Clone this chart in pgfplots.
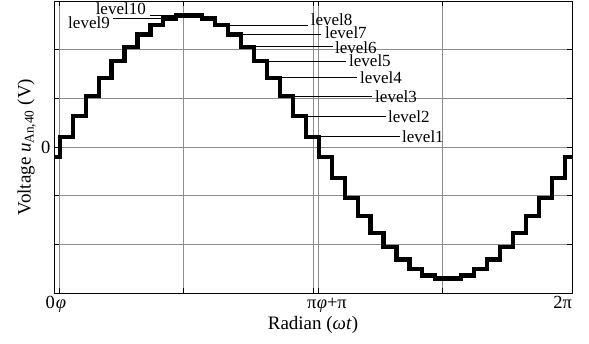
\documentclass[border=0pt]{standalone}
\usepackage{pgfplots}
\pgfplotsset{compat=1.18}
\usepackage{fontspec}
\setmainfont{Liberation Serif}
\begin{document}
\begin{tikzpicture}
\useasboundingbox (-54pt,-50pt) rectangle (535pt,293pt);
\begin{axis}[
  at={(0pt,0pt)}, anchor=south west,
  scale only axis, width=518pt, height=292pt,
  xmin=0, xmax=6.283185, ymin=-3, ymax=3,
  xtick={0,0.07,1.570796,3.141593,3.211593,4.712389,6.283185},
  xticklabels={\makebox[0pt][r]{0\kern-1pt},\makebox[0pt][l]{\kern-4pt\textit{φ}},,\makebox[0pt][r]{π\kern-3.5pt},\makebox[0pt][l]{\kern-2pt\textit{φ}+π},,\makebox[0pt][r]{2π}},
  ytick={-3,-2,-1,0,1,2,3},
  yticklabels={,,,0,,,},
  grid=major,
  major grid style={black!45, line width=0.6pt},
  tick align=inside, major tick length=5pt,
  tick style={black, line width=0.6pt},
  axis line style={line width=0.8pt},
  tick label style={font=\fontsize{18.5}{21}\selectfont},
  xticklabel style={anchor=base, yshift=-15pt},
  label style={font=\fontsize{19}{22}\selectfont},
  xlabel={Radian (\textit{ωt})},
  ylabel={Voltage \textit{u}\textsubscript{An,40} (V)},
  xlabel style={at={(axis description cs:0.5,0)}, anchor=base, yshift=-36pt},
  ylabel style={at={(axis description cs:-0.053,0.5)}, anchor=center},
]
\addplot[const plot, black, line width=4.2pt, line join=miter, no markers] coordinates {
(0,-0.21) (0.0700,0.21) (0.2271,0.63) (0.3842,1.04) (0.5412,1.42) (0.6983,1.76)
(0.8554,2.06) (1.0125,2.31) (1.1696,2.50) (1.3266,2.64) (1.4837,2.70)
(1.6408,2.70) (1.7979,2.64) (1.9550,2.50) (2.1120,2.31) (2.2691,2.06)
(2.4262,1.76) (2.5833,1.42) (2.7404,1.04) (2.8974,0.63) (3.0545,0.21)
(3.2116,-0.21) (3.3687,-0.63) (3.5258,-1.04) (3.6828,-1.42) (3.8399,-1.76)
(3.9970,-2.06) (4.1541,-2.31) (4.3112,-2.50) (4.4682,-2.64) (4.6253,-2.70)
(4.7824,-2.70) (4.9395,-2.64) (5.0966,-2.50) (5.2536,-2.31) (5.4107,-2.06)
(5.5678,-1.76) (5.7249,-1.42) (5.8820,-1.04) (6.0390,-0.63) (6.1961,-0.21)
(6.2832,-0.21)
};
\begin{scope}[line width=0.8pt]
\draw (axis cs:1.1645,2.70) -- (axis cs:1.4837,2.70);
\draw (axis cs:0.7157,2.64) -- (axis cs:1.4837,2.64);
\draw (axis cs:2.1120,2.50) -- (axis cs:3.081,2.50);
\draw (axis cs:2.2691,2.31) -- (axis cs:3.239,2.31);
\draw (axis cs:2.4262,2.06) -- (axis cs:3.384,2.06);
\draw (axis cs:2.5833,1.76) -- (axis cs:3.542,1.76);
\draw (axis cs:2.7404,1.42) -- (axis cs:3.675,1.42);
\draw (axis cs:2.8974,1.04) -- (axis cs:3.857,1.04);
\draw (axis cs:3.0545,0.63) -- (axis cs:4.027,0.63);
\draw (axis cs:3.2116,0.21) -- (axis cs:4.197,0.21);
\end{scope}
\begin{scope}[every node/.style={inner sep=0pt, font=\fontsize{17}{20}\selectfont}]
\node[anchor=base east] at (axis cs:1.116,2.72) {level10};
\node[anchor=base east] at (axis cs:0.679,2.435) {level9};
\node[anchor=base west] at (axis cs:3.114,2.49) {level8};
\node[anchor=base west] at (axis cs:3.287,2.223) {level7};
\node[anchor=base west] at (axis cs:3.408,1.921) {level6};
\node[anchor=base west] at (axis cs:3.578,1.664) {level5};
\node[anchor=base west] at (axis cs:3.712,1.305) {level4};
\node[anchor=base west] at (axis cs:3.894,0.914) {level3};
\node[anchor=base west] at (axis cs:4.051,0.503) {level2};
\node[anchor=base west] at (axis cs:4.221,0.092) {level1};
\end{scope}
\end{axis}
\end{tikzpicture}
\end{document}
